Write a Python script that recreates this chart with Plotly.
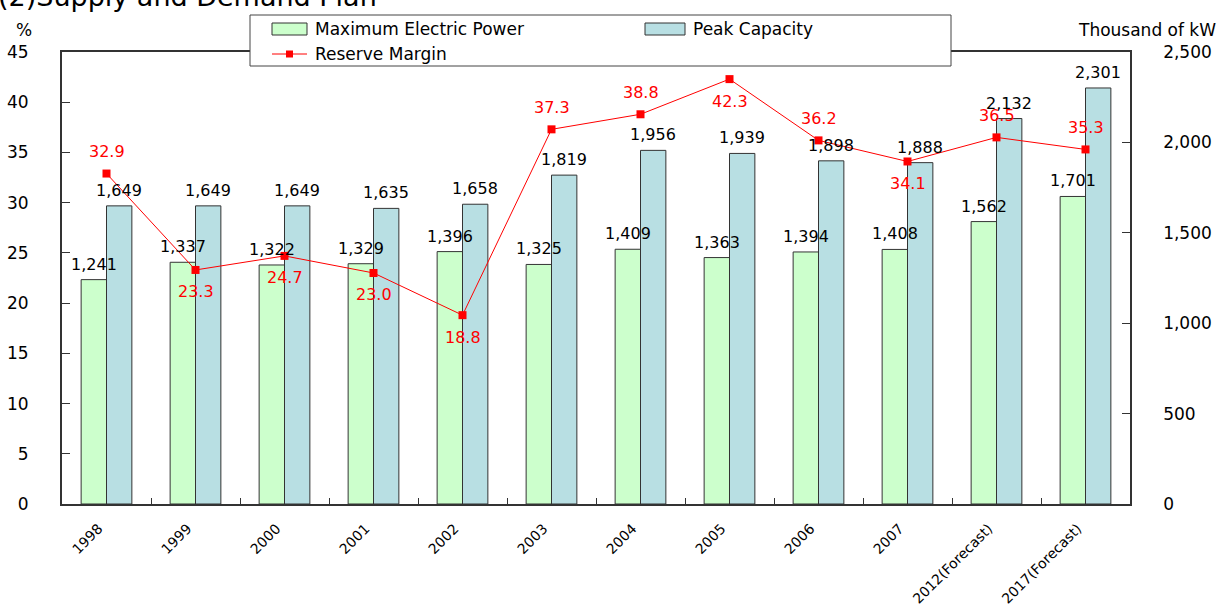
import plotly.graph_objects as go

# data
years = ["1998", "1999", "2000", "2001", "2002", "2003", "2004", "2005",
         "2006", "2007", "2012(Forecast)", "2017(Forecast)"]
max_power = [1241, 1337, 1322, 1329, 1396, 1325, 1409, 1363, 1394, 1408, 1562, 1701]
peak_capacity = [1649, 1649, 1649, 1635, 1658, 1819, 1956, 1939, 1898, 1888, 2132, 2301]
reserve_margin = [32.9, 23.3, 24.7, 23.0, 18.8, 37.3, 38.8, 42.3, 36.2, 34.1, 36.5, 35.3]
# where the red label sits relative to its marker
margin_label_side = ["up", "down", "down", "down", "down", "up",
                     "up", "down", "up", "down", "up", "up"]

FONT = "DejaVu Sans"
GREEN = "#CCFFCC"
BLUE = "#B8DFE3"
RED = "#FF0000"
BARGAP = 0.43

# plot area in pixels (for the hand drawn legend box)
L, R, T, B = 62, 1130, 52, 504
def px(x):
    return (x - L) / (R - L)
def py(y):
    return (B - y) / (B - T)

fig = go.Figure()

fig.add_trace(go.Bar(
    x=years, y=max_power, name="Maximum Electric Power",
    marker=dict(color=GREEN, line=dict(color="#333333", width=1)),
    yaxis="y",
))
fig.add_trace(go.Bar(
    x=years, y=peak_capacity, name="Peak Capacity",
    marker=dict(color=BLUE, line=dict(color="#333333", width=1)),
    yaxis="y",
))
fig.add_trace(go.Scatter(
    x=years, y=reserve_margin, name="Reserve Margin",
    mode="lines+markers",
    line=dict(color=RED, width=1),
    marker=dict(symbol="square", size=8, color=RED),
    yaxis="y2", cliponaxis=False,
))

# bar value labels as annotations so they sit on top of the neighbouring bar
half = (1 - BARGAP) / 4
for i, (g, b) in enumerate(zip(max_power, peak_capacity)):
    for xpos, val in [(i - half, g), (i + half, b)]:
        fig.add_annotation(
            x=xpos, y=val, xref="x", yref="y", text=f"{val:,}", showarrow=False,
            yanchor="bottom", yshift=4,
            font=dict(family=FONT, size=16, color="black"),
        )

# red value labels (x as category index)
for i, (v, side) in enumerate(zip(reserve_margin, margin_label_side)):
    fig.add_annotation(
        x=i, y=v, xref="x", yref="y2", text=f"{v:.1f}", showarrow=False,
        yshift=22 if side == "up" else -22,
        font=dict(family=FONT, size=16, color=RED),
    )

# legend box drawn by hand
fig.add_shape(type="rect", xref="paper", yref="paper", layer="above",
              x0=px(250), x1=px(951), y0=py(66), y1=py(15),
              fillcolor="white", line=dict(color="#444444", width=1))
fig.add_shape(type="rect", xref="paper", yref="paper", layer="above",
              x0=px(272), x1=px(307), y0=py(35), y1=py(23),
              fillcolor=GREEN, line=dict(color="#333333", width=1))
fig.add_shape(type="rect", xref="paper", yref="paper", layer="above",
              x0=px(645), x1=px(685), y0=py(35), y1=py(23),
              fillcolor=BLUE, line=dict(color="#333333", width=1))
fig.add_shape(type="line", xref="paper", yref="paper", layer="above",
              x0=px(272), x1=px(307), y0=py(54), y1=py(54),
              line=dict(color=RED, width=1))
fig.add_shape(type="rect", xref="paper", yref="paper", layer="above",
              x0=px(286), x1=px(293), y0=py(57.5), y1=py(50.5),
              fillcolor=RED, line=dict(color=RED, width=0))
for txt, x0, y0 in [("Maximum Electric Power", 313, 29),
                    ("Peak Capacity", 691, 29),
                    ("Reserve Margin", 313, 54)]:
    fig.add_annotation(x=px(x0), y=py(y0), xref="paper", yref="paper",
                       text=txt, showarrow=False, xanchor="left", yanchor="middle",
                       font=dict(family=FONT, size=17, color="black"))

# title and axis units
fig.add_annotation(x=px(-4), y=py(-4), xref="paper", yref="paper",
                   text="(2)Supply and Demand Plan", showarrow=False,
                   xanchor="left", yanchor="middle",
                   font=dict(family=FONT, size=27, color="black"))
fig.add_annotation(x=px(24), y=py(30), xref="paper", yref="paper",
                   text="%", showarrow=False, xanchor="center", yanchor="middle",
                   font=dict(family=FONT, size=17, color="black"))
fig.add_annotation(x=px(1218), y=py(30), xref="paper", yref="paper",
                   text="Thousand of kW", showarrow=False, xanchor="right",
                   yanchor="middle", font=dict(family=FONT, size=17, color="black"))

fig.update_layout(
    width=1221, height=610,
    margin=dict(l=L, r=1221 - R, t=T, b=610 - B, autoexpand=False),
    paper_bgcolor="white", plot_bgcolor="white",
    showlegend=False,
    barmode="group", bargap=BARGAP, bargroupgap=0,
    font=dict(family=FONT, color="black"),
    xaxis=dict(
        type="category", range=[-0.5, len(years) - 0.5],
        tickangle=-45, tickson="boundaries",
        ticks="inside", ticklen=6, tickcolor="#333333",
        showline=True, linecolor="#333333", linewidth=2, mirror=True,
        showgrid=False, tickfont=dict(family=FONT, size=14),
        ticklabelstandoff=9, ticklabelshift=-8,
    ),
    yaxis=dict(
        side="right", range=[0, 2500], dtick=500, tickformat=",",
        ticks="inside", ticklen=8, tickcolor="#333333",
        showline=True, linecolor="#333333", linewidth=1.5,
        showgrid=False, zeroline=False,
        tickfont=dict(family=FONT, size=17), ticklabelstandoff=28,
    ),
    yaxis2=dict(
        overlaying="y", side="left", range=[0, 45], dtick=5,
        ticks="inside", ticklen=8, tickcolor="#333333",
        showline=True, linecolor="#333333", linewidth=2,
        showgrid=False, zeroline=False,
        tickfont=dict(family=FONT, size=17), ticklabelstandoff=28,
    ),
)

fig.write_html("out.html", config={"displayModeBar": False},
               post_script="document.body.style.margin='0';")
